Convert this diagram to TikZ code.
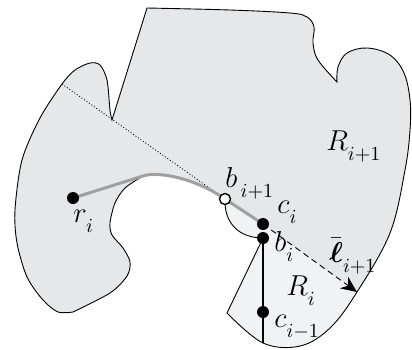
\documentclass[tikz,border=0pt]{standalone}
\usepackage{amsmath}
\usetikzlibrary{positioning,calc,arrows.meta}

\definecolor{regiondark}{RGB}{230,231,232}
\definecolor{regionlight}{RGB}{241,242,243}
\definecolor{pathgray}{RGB}{160,160,160}
\newcommand{\lsub}[1]{_{\raisebox{-3pt}{$\scriptstyle #1$}}}

% boundary of the whole region R_{i+1} (needs bi, bnext, cut)
\newcommand{\regionpath}{(147,8) -- plot[smooth, tension=0.6] coordinates
    {(147,8) (230,10) (290,13) (307,17) (314,27) (313,43) (318,60) (337,82)}
  -- plot[smooth, tension=0.6] coordinates
    {(337,82) (338,67) (347,53) (367,48) (390,55) (404,73) (410,100) (410,130)
     (405,170) (390,233) (357,292) (330,328) (300,346) (263,343) (227,313)}
  -- (bi) .. controls (238,238) and (224,222) .. (bnext)
  .. controls (195,178) and (158,171) .. (cut)
  -- plot[smooth] coordinates
    {(143,176) (125,188) (115,203) (110,223) (112,235) (123,248) (130,262)
     (127,276) (110,293) (73,312)}
  -- plot[smooth] coordinates
    {(73,312) (58,312) (43,300) (27,277) (17,243) (15,210) (22,160) (40,118)
     (62,84) (75,70) (90,63) (100,65) (107,80) (110,110) (112,120)}
  -- cycle}

\tikzset{
  dot/.style={circle, fill=black, inner sep=0pt, minimum size=6pt},
  opendot/.style={circle, draw=black, fill=white, line width=0.7pt,
    inner sep=0pt, minimum size=5.5pt},
  lbl/.style={anchor=base west, inner sep=0pt, font=\fontsize{14}{16}\selectfont},
}

\begin{document}
\begin{tikzpicture}[x=0.5pt, y=-0.5pt]
\useasboundingbox (0,0) rectangle (412,349);

\coordinate (r) at (73,198);
\coordinate (bnext) at (225,199);
\coordinate (ci) at (263,224);
\coordinate (bi) at (263,238);
\coordinate (cprev) at (263,312);
\coordinate (cbot) at (263,343);
\coordinate (cut) at (143,176);
\coordinate (lstart) at (62,84);
\coordinate (lend) at (357,292);

% regions
\fill[regiondark] \regionpath;
\begin{scope}
  \clip \regionpath;
  \fill[regionlight] (bnext) -- (ci) -- (lend) -- (420,335) -- (420,360)
    -- (200,360) -- (227,313) -- (bi) .. controls (238,238) and (224,222) .. (bnext);
\end{scope}
\draw[line width=0.45pt] \regionpath;

% the line l_{i+1} and the path from r_i
\draw[dash pattern=on 0.5pt off 1pt, line width=0.4pt] (lstart) -- (bnext);
\draw[pathgray, line width=1.5pt] (r) -- (cut) .. controls (158,171) and (195,178) .. (bnext) -- (ci);
\draw[dash pattern=on 3pt off 2pt, line width=0.45pt, -{Stealth[length=8pt, width=7pt]}] (ci) -- (lend);
\draw[line width=0.8pt] (bi) -- (cbot);

% points
\node[dot] (rdot) at (r) {};
\node[dot] (cidot) at (ci) {};
\node[dot] (bidot) at (bi) {};
\node[dot] (cprevdot) at (cprev) {};
\node[opendot] (bnextdot) at (bnext) {};

% labels
\node[lbl] (Rnext) at (326,150) {$R\lsub{i+1}$};
\node[lbl] (rlbl) at (73,222) {$r\lsub{i}$};
\node[lbl] (bnextlbl) at (225,187) {$b\lsub{\,i+1}$};
\node[lbl] (cilbl) at (277,213) {$c\lsub{i}$};
\node[lbl] (bilbl) at (274,251) {$b\lsub{i}$};
\node[lbl] (llbl) at (329,262) {$\bar{\boldsymbol{\ell}}\lsub{i+1}$};
\node[lbl] (Rilbl) at (286,295) {$R\lsub{i}$};
\node[lbl] (cprevlbl) at (274,327) {$c\lsub{i-1}$};
\end{tikzpicture}
\end{document}
